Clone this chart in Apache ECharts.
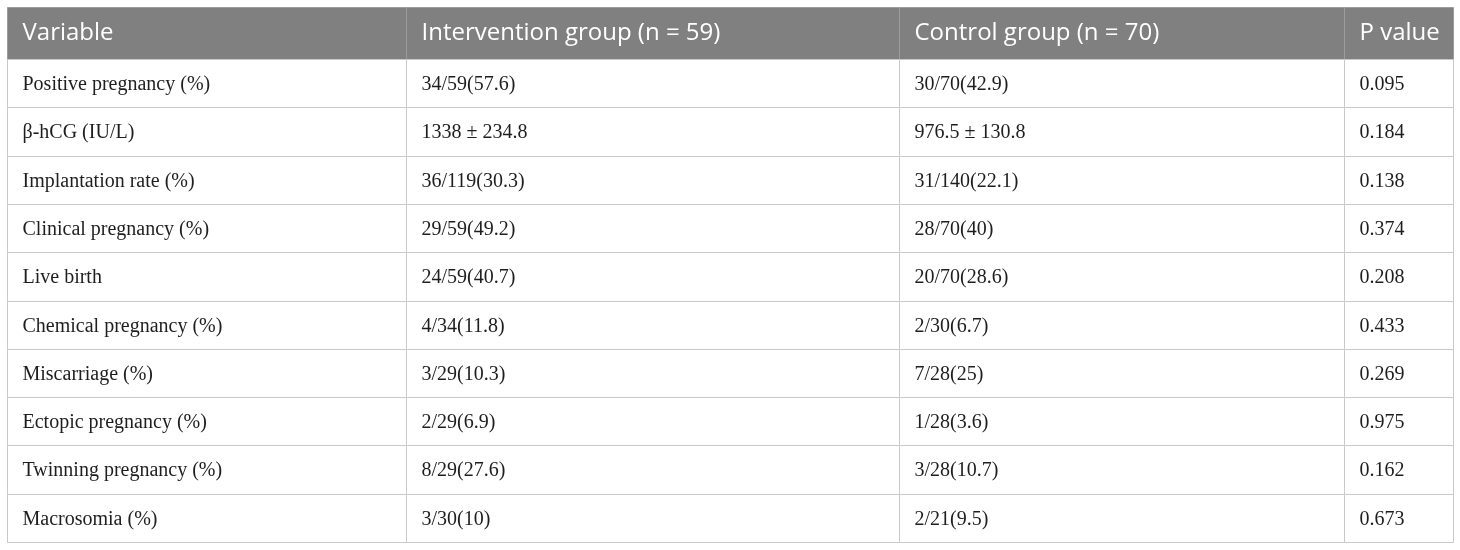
<!DOCTYPE html>
<html>
<head>
<meta charset="utf-8">
<script src="https://cdn.jsdelivr.net/npm/echarts@6/dist/echarts.min.js"></script>
<style>
html,body{margin:0;padding:0;background:#fff;}
#chart{width:1460px;height:550px;}
</style>
</head>
<body>
<div id="chart"></div>
<script>
const headers = ['Variable', 'Intervention group (n = 59)', 'Control group (n = 70)', 'P value'];
const variables = [
  'Positive pregnancy (%)',
  'β-hCG (IU/L)',
  'Implantation rate (%)',
  'Clinical pregnancy (%)',
  'Live birth',
  'Chemical pregnancy (%)',
  'Miscarriage (%)',
  'Ectopic pregnancy (%)',
  'Twinning pregnancy (%)',
  'Macrosomia (%)'
];
const intervention = [
  '34/59(57.6)',
  '1338 ± 234.8',
  '36/119(30.3)',
  '29/59(49.2)',
  '24/59(40.7)',
  '4/34(11.8)',
  '3/29(10.3)',
  '2/29(6.9)',
  '8/29(27.6)',
  '3/30(10)'
];
const control = [
  '30/70(42.9)',
  '976.5 ± 130.8',
  '31/140(22.1)',
  '28/70(40)',
  '20/70(28.6)',
  '2/30(6.7)',
  '7/28(25)',
  '1/28(3.6)',
  '3/28(10.7)',
  '2/21(9.5)'
];
const pValues = ['0.095', '0.184', '0.138', '0.374', '0.208', '0.433', '0.269', '0.975', '0.162', '0.673'];

// layout (column edges in axis units)
const colEdges = [0, 399, 892, 1337, 1446];
const PAD = 15;

const chart = echarts.init(document.getElementById('chart'), null, {renderer: 'canvas'});

function cellsRender(getTexts, isHeader) {
  return function (params, api) {
    const row = api.value(1);
    const texts = getTexts(row);
    const children = [];
    const bandH = api.size([0, 1])[1];
    for (let c = 0; c < 4; c++) {
      const p0 = api.coord([colEdges[c], row]);
      const p1 = api.coord([colEdges[c + 1], row]);
      const x0 = Math.round(p0[0]) + 0.5;
      const x1 = Math.round(p1[0]) + 0.5;
      const y0 = Math.round(p0[1] - bandH / 2) + 0.5;
      const y1 = Math.round(p0[1] + bandH / 2) + 0.5;
      children.push({
        type: 'rect',
        shape: {x: x0, y: y0, width: x1 - x0, height: y1 - y0},
        style: isHeader
          ? {fill: '#808080', stroke: '#9c9c9c', lineWidth: 1}
          : {fill: '#ffffff', stroke: '#c9c9c9', lineWidth: 1}
      });
      children.push({
        type: 'text',
        x: x0 + PAD,
        y: (y0 + y1) / 2 + (isHeader ? 0 : 1),
        style: {
          text: texts[c],
          fill: isHeader ? '#ffffff' : '#1e1e1e',
          font: isHeader ? '24px "Open Sans"' : '20px "Liberation Serif"',
          textAlign: 'left',
          textVerticalAlign: 'middle'
        }
      });
    }
    return {type: 'group', children: children};
  };
}

chart.setOption({
  animation: false,
  grid: [
    {left: 7, right: 7, top: 7, height: 52},
    {left: 7, right: 7, top: 59, bottom: 8}
  ],
  xAxis: [
    {type: 'value', gridIndex: 0, min: 0, max: colEdges[4], show: false},
    {type: 'value', gridIndex: 1, min: 0, max: colEdges[4], show: false}
  ],
  yAxis: [
    {type: 'category', gridIndex: 0, data: ['header'], show: false, inverse: true},
    {type: 'category', gridIndex: 1, data: variables, show: false, inverse: true}
  ],
  series: [
    {
      type: 'custom',
      xAxisIndex: 0, yAxisIndex: 0,
      encode: {x: 0, y: 1},
      data: [[0, 0]],
      renderItem: cellsRender(() => headers, true)
    },
    {
      type: 'custom',
      xAxisIndex: 1, yAxisIndex: 1,
      encode: {x: 0, y: 1},
      data: variables.map((v, i) => [0, i]),
      renderItem: cellsRender(i => [variables[i], intervention[i], control[i], pValues[i]], false)
    }
  ]
});
</script>
</body>
</html>
